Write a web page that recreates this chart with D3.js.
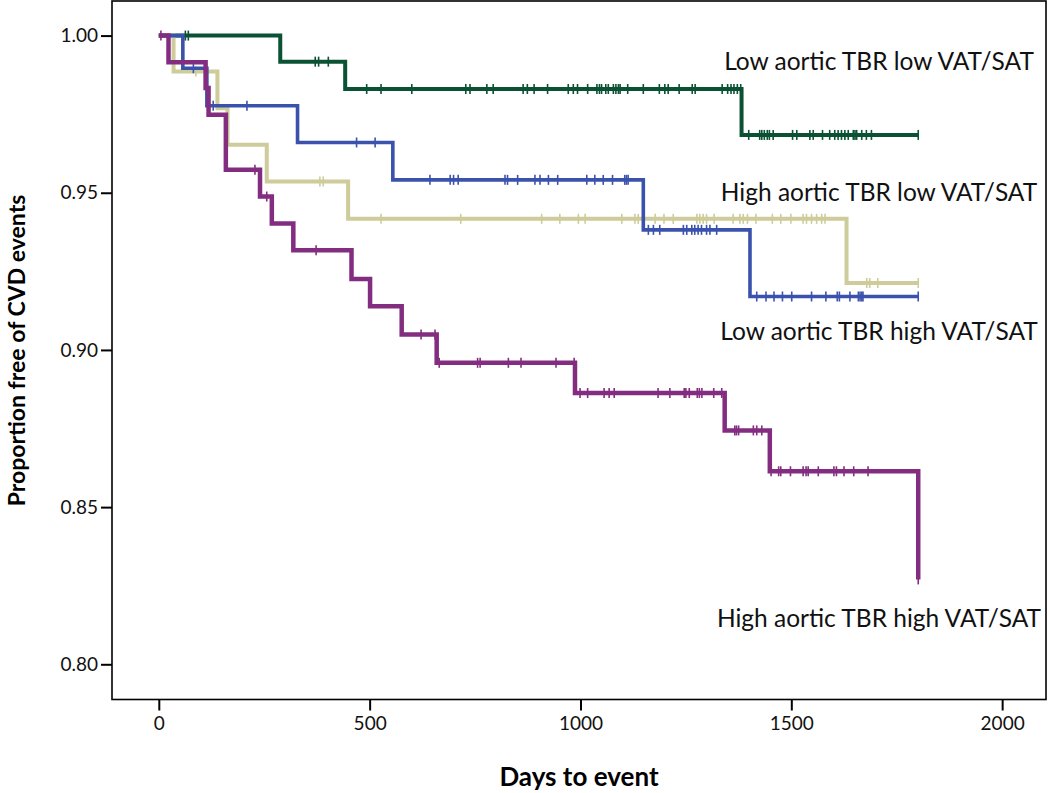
<!DOCTYPE html>
<html><head><meta charset="utf-8">
<script src="https://cdn.jsdelivr.net/npm/d3@7"></script>
<style>
body{margin:0;background:#fff}
svg{display:block}
text{font-family:Lato,"Open Sans",sans-serif;}
</style>
</head><body>
<svg id="chart" width="1050" height="793"></svg>
<script>
// ---- data ----
const groupNames = ["Low aortic TBR low VAT/SAT", "High aortic TBR low VAT/SAT", "Low aortic TBR high VAT/SAT", "High aortic TBR high VAT/SAT"];
const xTickValues = [0, 500, 1000, 1500, 2000];
const yTickValues = [0.80, 0.85, 0.90, 0.95, 1.00];

// group 1: Low aortic TBR low VAT/SAT (green)
const greenTimes = [0, 288, 442, 1382, 1801];
const greenSurv  = [1, 0.9917, 0.9830, 0.9684, 0.9684];
const greenCensor = [63, 70, 371, 379, 402, 493, 527, 600, 728, 738, 778, 793, 864, 874, 890, 922, 971, 983, 993, 1017, 1039, 1045, 1050, 1060, 1066, 1078, 1084, 1090, 1094, 1112, 1149, 1187, 1200, 1208, 1234, 1265, 1272, 1336, 1349, 1357, 1364, 1372, 1380, 1399, 1425, 1430, 1436, 1443, 1448, 1457, 1503, 1513, 1544, 1552, 1574, 1591, 1603, 1611, 1619, 1627, 1635, 1647, 1651, 1655, 1667, 1678, 1690, 1801];

// group 2: High aortic TBR low VAT/SAT (blue)
const blueTimes = [0, 57, 114, 329, 555, 1149, 1402, 1801];
const blueSurv  = [1, 0.9896, 0.9777, 0.9660, 0.9541, 0.9382, 0.9170, 0.9170];
const blueCensor = [82, 129, 209, 469, 513, 643, 691, 699, 710, 821, 827, 851, 892, 904, 924, 946, 1015, 1034, 1054, 1076, 1105, 1109, 1113, 1161, 1173, 1188, 1244, 1252, 1264, 1271, 1279, 1287, 1299, 1307, 1323, 1418, 1440, 1459, 1479, 1501, 1548, 1582, 1609, 1614, 1639, 1659, 1663, 1667, 1670, 1801];

// group 3: Low aortic TBR high VAT/SAT (khaki)
const khakiTimes = [0, 35, 139, 163, 256, 449, 1631, 1801];
const khakiSurv  = [1, 0.9886, 0.9769, 0.9653, 0.9536, 0.9417, 0.9213, 0.9213];
const khakiCensor = [88, 382, 390, 527, 716, 908, 951, 995, 1011, 1098, 1129, 1137, 1149, 1177, 1198, 1220, 1276, 1283, 1291, 1299, 1317, 1362, 1378, 1386, 1396, 1416, 1455, 1475, 1499, 1528, 1536, 1548, 1560, 1572, 1580, 1679, 1686, 1705, 1801];

// group 4: High aortic TBR high VAT/SAT (purple)
const purpleTimes = [0, 23, 111, 118, 159, 240, 268, 319, 457, 501, 576, 659, 987, 1342, 1449, 1801];
const purpleSurv  = [1, 0.9915, 0.9833, 0.9748, 0.9573, 0.9488, 0.9402, 0.9317, 0.9226, 0.9139, 0.9049, 0.8959, 0.8863, 0.8744, 0.8614, 0.8270];
const purpleCensor = [5, 228, 256, 373, 622, 655, 665, 756, 762, 829, 859, 942, 985, 999, 1017, 1056, 1068, 1080, 1184, 1212, 1246, 1250, 1258, 1277, 1282, 1288, 1316, 1335, 1366, 1370, 1375, 1410, 1418, 1430, 1452, 1470, 1475, 1498, 1528, 1535, 1540, 1564, 1601, 1607, 1625, 1648, 1682, 1801];

// ---- layout ----
const svg = d3.select("#chart");
const L = 112, R = 1046, T = 1, B = 699.5;
const x = d3.scaleLinear().domain([-111, 2104]).range([L, R]);
const y = d3.scaleLinear().domain([0.7888, 1.011]).range([B, T]);

const series = [
  {name: groupNames[0], times: greenTimes, surv: greenSurv, cens: greenCensor, color: "#0b5134", w: 4, ly: 70},
  {name: groupNames[2], times: khakiTimes, surv: khakiSurv, cens: khakiCensor, color: "#cdcc9a", w: 4, ly: 340},
  {name: groupNames[1], times: blueTimes, surv: blueSurv, cens: blueCensor, color: "#3b52ad", w: 3.6, ly: 201},
  {name: groupNames[3], times: purpleTimes, surv: purpleSurv, cens: purpleCensor, color: "#832d80", w: 4.5, ly: 627}
];

const line = d3.line().x(d => x(d[0])).y(d => y(d[1])).curve(d3.curveStepAfter);

series.forEach(s => {
  const pts = s.times.map((t, i) => [t, s.surv[i]]);
  const g = svg.append("g");
  g.append("path").attr("d", line(pts)).attr("fill", "none")
    .attr("stroke", s.color).attr("stroke-width", s.w).attr("stroke-linejoin", "miter");
  const survAt = t => { let v = 1; for (let i = 0; i < s.times.length; i++) if (s.times[i] <= t) v = s.surv[i]; return v; };
  g.selectAll("line.c").data(s.cens).join("line").attr("class", "c")
    .attr("x1", d => x(d)).attr("x2", d => x(d))
    .attr("y1", d => y(survAt(d)) - 5).attr("y2", d => y(survAt(d)) + 5)
    .attr("stroke", s.color).attr("stroke-width", 1.6);
});

// frame
svg.append("rect").attr("x", L).attr("y", T).attr("width", R - L).attr("height", B - T)
  .attr("fill", "none").attr("stroke", "#000").attr("stroke-width", 1.6);

// axes
const ax = svg.append("g").attr("transform", `translate(0,${B})`)
  .call(d3.axisBottom(x).tickValues(xTickValues).tickFormat(d3.format("d")).tickSize(11).tickPadding(6));
const ay = svg.append("g").attr("transform", `translate(${L},0)`)
  .call(d3.axisLeft(y).tickValues(yTickValues).tickFormat(d3.format(".2f")).tickSize(11).tickPadding(3));
[ax, ay].forEach(a => {
  a.select(".domain").remove();
  a.selectAll(".tick line").attr("stroke", "#000").attr("stroke-width", 2);
  a.selectAll(".tick text").attr("fill", "#111").style("font-size", "19px").style("font-family", "Lato");
});

// series labels
series.forEach(s => {
  svg.append("text").attr("x", 879).attr("y", s.ly).attr("text-anchor", "middle")
    .attr("fill", "#111").style("font-size", "24.5px").text(s.name);
});

// axis titles
svg.append("text").attr("x", 579).attr("y", 786).attr("text-anchor", "middle")
  .style("font-size", "26px").style("font-weight", "bold").attr("fill", "#000").text("Days to event");
svg.append("text").attr("transform", "translate(25,350.5) rotate(-90)").attr("text-anchor", "middle")
  .style("font-size", "23px").style("font-weight", "bold").attr("fill", "#000").text("Proportion free of CVD events");
</script>
</body></html>
